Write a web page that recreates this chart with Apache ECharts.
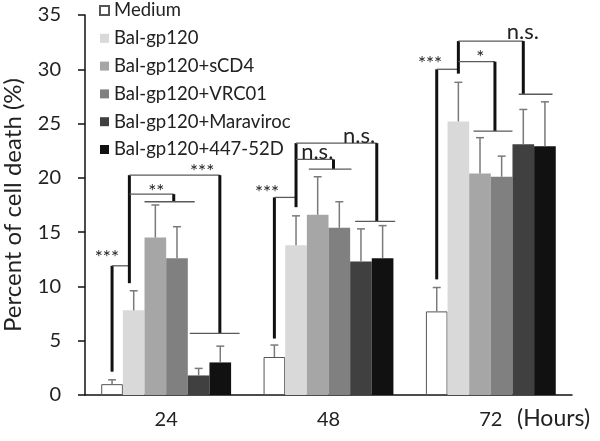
<!DOCTYPE html>
<html>
<head>
<meta charset="utf-8">
<script src="https://cdn.jsdelivr.net/npm/echarts@6/dist/echarts.min.js"></script>
<style>html,body{margin:0;padding:0;background:#fff;}#chart{width:600px;height:441px;}</style>
</head>
<body>
<div id="chart"></div>
<script>
// ---- data ----
const categories = ['24', '48', '72'];
const seriesNames = ['Medium', 'Bal-gp120', 'Bal-gp120+sCD4', 'Bal-gp120+VRC01', 'Bal-gp120+Maraviroc', 'Bal-gp120+447-52D'];
const medium     = [1.0, 3.5, 7.7];
const balGp120   = [7.8, 13.8, 25.2];
const sCD4       = [14.5, 16.6, 20.4];
const vrc01      = [12.6, 15.4, 20.1];
const maraviroc  = [1.8, 12.3, 23.1];
const d44752     = [3.0, 12.6, 22.9];
const mediumErr    = [0.4, 1.1, 2.2];
const balGp120Err  = [1.8, 2.7, 3.6];
const sCD4Err      = [3.0, 3.5, 3.3];
const vrc01Err     = [2.9, 2.4, 1.9];
const maravirocErr = [0.65, 3.0, 3.2];
const d44752Err    = [1.5, 3.0, 4.1];
const yTicks = [0, 5, 10, 15, 20, 25, 30, 35];

// significance brackets: [category, barPos1, y1, barPos2, y2, thick]
const brackets24 = [
  [0, 0, 2.15, 0, 11.9, 1], [0, 0, 11.9, 0.8, 11.9, 0],
  [0, 0.8, 10.3, 0.8, 20.25, 1], [0, 0.8, 20.25, 4.98, 20.25, 0],
  [0, 4.98, 20.25, 4.98, 5.68, 1], [0, 3.59, 5.68, 5.89, 5.68, 0],
  [0, 0.8, 18.5, 2.85, 18.5, 0], [0, 2.85, 18.5, 2.85, 17.8, 1],
  [0, 1.5, 17.8, 3.82, 17.8, 0]
];
const brackets48 = [
  [1, 0, 5.2, 0, 18.2, 1], [1, 0, 18.2, 1, 18.2, 0],
  [1, 1, 17.3, 1, 23.2, 1], [1, 1, 21.7, 2.73, 21.7, 0],
  [1, 2.73, 21.7, 2.73, 20.8, 1], [1, 1.59, 20.8, 3.56, 20.8, 0],
  [1, 1, 23.2, 4.73, 23.2, 0], [1, 4.73, 23.2, 4.73, 16.0, 1],
  [1, 3.73, 16.0, 5.58, 16.0, 0]
];
const brackets72 = [
  [2, 0, 10.65, 0, 30.0, 1], [2, 0, 30.0, 1, 30.0, 0],
  [2, 1, 29.6, 1, 32.6, 1], [2, 1, 30.7, 2.69, 30.7, 0],
  [2, 2.69, 30.7, 2.69, 24.3, 1], [2, 1.7, 24.3, 3.5, 24.3, 0],
  [2, 1, 32.6, 4.0, 32.6, 0], [2, 4.0, 32.6, 4.0, 27.7, 1],
  [2, 3.79, 27.7, 5.35, 27.7, 0]
];
// significance labels: [category, barPos, y]
const sigPos = [
  [0, -0.24, 13.1], [0, 2.04, 19.2], [0, 4.16, 21.0],
  [1, -0.34, 19.1], [1, 1.98, 22.5], [1, 3.91, 23.95],
  [2, -0.31, 31.0], [2, 2.01, 31.5], [2, 3.98, 33.5]
];
const sigText = ['***', '**', '***', '***', 'n.s.', 'n.s.', '***', '*', 'n.s.'];

const valuesList = [medium, balGp120, sCD4, vrc01, maraviroc, d44752];
const errList = [mediumErr, balGp120Err, sCD4Err, vrc01Err, maravirocErr, d44752Err];
const colors = ['#ffffff', '#d9d9d9', '#a6a6a6', '#808080', '#404040', '#111111'];

const FONT = 'Lato';
const chart = echarts.init(document.getElementById('chart'), null, {renderer: 'canvas'});

const nBars = seriesNames.length;
function barX(api, cat, pos, y) {
  const c = api.coord([cat, y]);
  const band = api.size([1, 0])[0];
  const bw = band * 0.8 / nBars;
  return [c[0] + (pos - (nBars - 1) / 2) * bw, c[1]];
}

const barSeries = seriesNames.map((name, i) => ({
  name: name,
  type: 'bar',
  data: valuesList[i],
  barGap: '0%',
  barCategoryGap: '20%',
  itemStyle: i === 0 ? {color: colors[i], borderColor: '#555', borderWidth: 1} : {color: colors[i]},
  z: 2
}));

const errData = [];
errList.forEach((arr, si) => arr.forEach((e, ci) => errData.push([ci, si, valuesList[si][ci], e])));

const errSeries = {
  type: 'custom',
  silent: true,
  z: 3,
  encode: {x: 0, y: 2},
  data: errData,
  renderItem: function (params, api) {
    const cat = api.value(0), si = api.value(1), v = api.value(2), e = api.value(3);
    const b = barX(api, cat, si, v);
    const t = barX(api, cat, si, v + e);
    const st = {stroke: '#7a7a7a', lineWidth: 1.5};
    return {type: 'group', children: [
      {type: 'line', shape: {x1: b[0], y1: b[1], x2: t[0], y2: t[1]}, style: st},
      {type: 'line', shape: {x1: t[0] - 4, y1: t[1], x2: t[0] + 4, y2: t[1]}, style: st}
    ]};
  }
};

const bracketData = brackets24.concat(brackets48, brackets72);
const bracketSeries = {
  type: 'custom',
  silent: true,
  z: 4,
  encode: {x: 0, y: 2},
  data: bracketData,
  renderItem: function (params, api) {
    const cat = api.value(0);
    const p1 = barX(api, cat, api.value(1), api.value(2));
    const p2 = barX(api, cat, api.value(3), api.value(4));
    const thick = api.value(5) === 1;
    return {type: 'line', shape: {x1: p1[0], y1: p1[1], x2: p2[0], y2: p2[1]},
      style: thick ? {stroke: '#111', lineWidth: 3} : {stroke: '#5a5a5a', lineWidth: 1.3}};
  }
};

const labelSeries = {
  type: 'custom',
  silent: true,
  z: 5,
  encode: {x: 0, y: 2},
  data: sigPos,
  renderItem: function (params, api) {
    const cat = api.value(0);
    const p = barX(api, cat, api.value(1), api.value(2));
    const txt = sigText[params.dataIndex];
    const isNs = txt === 'n.s.';
    return {type: 'text', x: p[0], y: p[1] + (isNs ? 1 : 5),
      style: {text: txt, fontFamily: FONT, fontSize: isNs ? 22 : 19, fill: '#222', align: 'center', verticalAlign: 'middle'}};
  }
};

const option = {
  animation: false,
  backgroundColor: '#fff',
  textStyle: {fontFamily: FONT},
  legend: {
    data: seriesNames,
    orient: 'vertical',
    left: 99,
    top: 1,
    padding: 0,
    itemWidth: 9,
    itemHeight: 9,
    itemGap: 8.8,
    icon: 'rect',
    textStyle: {fontFamily: FONT, fontSize: 18.5, color: '#222'}
  },
  grid: {left: 85, right: 28, top: 15, bottom: 46, containLabel: false, outerBoundsMode: 'none'},
  xAxis: {
    type: 'category',
    data: categories,
    axisLine: {lineStyle: {color: '#111', width: 1.5}},
    axisTick: {length: 6, lineStyle: {color: '#111', width: 1.5}},
    axisLabel: {fontFamily: FONT, fontSize: 20, color: '#222', margin: 15}
  },
  yAxis: {
    type: 'value',
    min: yTicks[0],
    max: yTicks[yTicks.length - 1],
    interval: 5,
    name: 'Percent of cell death (%)',
    nameLocation: 'middle',
    nameGap: 60,
    nameTextStyle: {fontFamily: FONT, fontSize: 24, color: '#222'},
    splitLine: {show: false},
    axisLine: {show: true, lineStyle: {color: '#111', width: 1.5}},
    axisTick: {show: true, length: 7, lineStyle: {color: '#111', width: 1.5}},
    axisLabel: {fontFamily: FONT, fontSize: 20, color: '#222', margin: 24}
  },
  graphic: [{
    type: 'text', left: 517, top: 407,
    style: {text: '(Hours)', fontFamily: FONT, fontSize: 23, fill: '#222'}
  }],
  series: barSeries.concat([errSeries, bracketSeries, labelSeries])
};
chart.setOption(option);
</script>
</body>
</html>
